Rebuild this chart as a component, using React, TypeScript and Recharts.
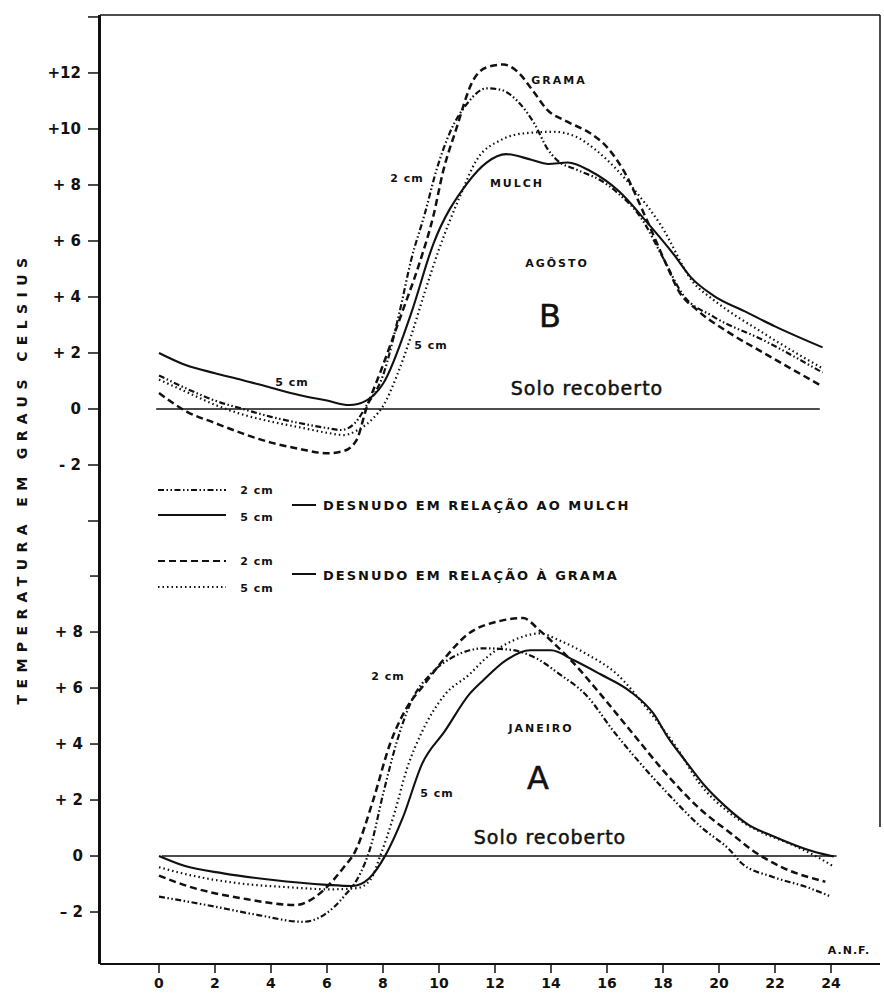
import React from 'react';
import { LineChart, Line, XAxis, YAxis, ReferenceLine } from 'recharts';

// hours of the day (A.N.F.)
const hourTicks = [0, 2, 4, 6, 8, 10, 12, 14, 16, 18, 20, 22, 24];

// upper panel (B - agosto) axis
const agostoTicks = [14, 12, 10, 8, 6, 4, 2, 0, -2, -4];
const agostoLabels = ['', '+12', '+10', '+ 8', '+ 6', '+ 4', '+ 2', '0', '- 2', ''];

// lower panel (A - janeiro) axis
const janeiroTicks = [10, 8, 6, 4, 2, 0, -2];
const janeiroLabels = ['', '+ 8', '+ 6', '+ 4', '+ 2', '0', '– 2'];

// [hour, difference in degrees C]
const agostoMulch2: [number, number][] = [
  [0, 1.2], [1, 0.72], [2, 0.3], [3, 0.0], [4, -0.28], [5, -0.5], [6, -0.68], [6.5, -0.75],
  [7, -0.5], [7.4, 0.1], [8, 1.2], [8.6, 3.5], [9, 5.3], [9.5, 7.0], [9.9, 8.5], [10.4, 9.9],
  [11, 10.9], [11.7, 11.45], [12.2, 11.4], [12.8, 11.0], [13.4, 10.2], [13.9, 9.25], [14.2, 8.9],
  [14.9, 8.55], [15.8, 8.15], [16.4, 7.7], [17.2, 6.85], [18, 5.4], [18.7, 4.1], [19.8, 3.3],
  [21.6, 2.45], [23.7, 1.3],
];
const agostoMulch5: [number, number][] = [
  [0, 2.0], [1, 1.55], [2, 1.28], [3, 1.03], [4, 0.76], [5, 0.5], [6, 0.3], [6.8, 0.14],
  [7.4, 0.3], [8, 0.9], [9, 3.4], [9.8, 5.9], [11, 8.05], [11.7, 8.8], [12.4, 9.1], [13.3, 8.9],
  [13.9, 8.75], [14.6, 8.8], [15.4, 8.5], [16.4, 7.8], [17.4, 6.7], [18.4, 5.5], [19, 4.7],
  [19.8, 4.05], [21, 3.45], [22, 2.95], [23.7, 2.2],
];
const agostoGrama2: [number, number][] = [
  [0, 0.57], [1, -0.1], [2, -0.5], [3, -0.88], [4, -1.2], [5, -1.42], [6, -1.58], [6.6, -1.5],
  [7.06, -1.1], [7.4, 0.0], [7.9, 1.3], [8.7, 3.5], [9.3, 5.2], [9.8, 6.9], [10.15, 8.5],
  [10.6, 9.95], [11.2, 11.7], [11.7, 12.2], [12.3, 12.3], [12.8, 12.05], [13.4, 11.3],
  [13.85, 10.7], [14.6, 10.25], [15.4, 9.85], [16.0, 9.35], [16.6, 8.5], [17.4, 6.8], [18.1, 5.2],
  [18.6, 4.15], [19.2, 3.55], [20.4, 2.7], [21.6, 2.0], [23.6, 0.86],
];
const agostoGrama5: [number, number][] = [
  [0, 1.05], [1, 0.6], [2, 0.15], [3, -0.2], [4, -0.45], [5, -0.65], [6, -0.85], [6.6, -0.93],
  [7.1, -0.75], [7.65, -0.33], [8.0, 0.1], [8.5, 1.2], [9.0, 2.6], [9.5, 4.2], [10.0, 5.7],
  [10.75, 7.6], [11.35, 8.9], [12.2, 9.6], [13.1, 9.85], [14.1, 9.9], [14.9, 9.72], [15.6, 9.25],
  [16.35, 8.55], [17.0, 7.8], [17.9, 6.6], [19.1, 4.5], [19.8, 3.9], [21.6, 2.7], [23.7, 1.45],
];

const janeiroMulch2: [number, number][] = [
  [0, -1.45], [1.7, -1.75], [3.5, -2.1], [5.15, -2.35], [5.9, -2.1], [6.6, -1.45], [7.2, -0.6],
  [7.55, 0.3], [8.0, 2.2], [8.5, 4.1], [9.0, 5.5], [9.7, 6.5], [10.4, 7.05], [11.1, 7.35],
  [11.6, 7.42], [12.6, 7.36], [13.4, 7.1], [14.3, 6.5], [15.3, 5.7], [16.2, 4.5], [17.2, 3.3],
  [18.2, 2.2], [19.4, 1.0], [20.4, 0.2], [20.8, -0.25], [21.9, -0.74], [23.1, -1.1], [24.0, -1.45],
];
const janeiroMulch5: [number, number][] = [
  [0, 0], [0.9, -0.35], [2.3, -0.62], [4, -0.85], [6, -1.03], [6.9, -1.07], [7.5, -0.8],
  [8.1, 0.05], [8.7, 1.35], [9.4, 3.3], [10.2, 4.45], [11.1, 5.8], [11.6, 6.3], [12.4, 7.0],
  [13.25, 7.35], [14.0, 7.35], [14.8, 7.0], [15.75, 6.5], [16.8, 5.9], [17.65, 5.1], [18.2, 4.2],
  [18.8, 3.4], [19.5, 2.5], [20.2, 1.8], [21, 1.15], [22, 0.68], [23.4, 0.15], [24.1, -0.02],
];
const janeiroGrama2: [number, number][] = [
  [0, -0.7], [1.1, -1.1], [2.9, -1.5], [4.9, -1.75], [5.3, -1.63], [5.9, -1.2], [6.6, -0.4],
  [7.0, 0.15], [7.65, 2.0], [8.25, 4.0], [8.85, 5.3], [9.45, 6.1], [10.15, 7.0], [11.0, 7.9],
  [12.2, 8.4], [13.0, 8.5], [13.6, 8.05], [14.1, 7.6], [14.8, 6.9], [15.75, 5.8], [16.9, 4.4],
  [18.1, 2.95], [19.3, 1.7], [20.5, 0.75], [21.2, 0.2], [22.2, -0.38], [23.8, -0.92],
];
const janeiroGrama5: [number, number][] = [
  [0, -0.4], [1.1, -0.68], [2.9, -0.98], [4.7, -1.12], [6.1, -1.19], [7.05, -1.15], [7.55, -0.85],
  [7.9, 0], [8.4, 1.5], [8.85, 3.1], [9.4, 4.45], [10.2, 5.75], [11.1, 6.5], [11.6, 7.0],
  [12.65, 7.7], [13.6, 7.95], [14.3, 7.7], [15.3, 7.2], [16.35, 6.5], [17.4, 5.3], [18.5, 3.85],
  [19.3, 2.6], [20.3, 1.6], [21.4, 0.9], [22.5, 0.45], [23.45, 0], [24.1, -0.38],
];

const toRows = (pts: [number, number][]) => pts.map(([h, v]) => ({ h, v }));

const INK = '#111';
const DASH_DOT = '6 2.5 1.5 2.5 1.5 2.5';
const DASHED = '7 4';
const DOTTED = '1.5 3';
const LETTER = 'DejaVu Sans, Verdana, sans-serif';

const X_DOMAIN: [number, number] = [-2.107, 25.75];
const B_DOMAIN: [number, number] = [-19.82, 14.07];
const A_DOMAIN: [number, number] = [-3.857, 30.04];

const series = [
  { id: 'B', data: agostoMulch2, dash: DASH_DOT, w: 2.2 },
  { id: 'B', data: agostoMulch5, dash: undefined, w: 2.1 },
  { id: 'B', data: agostoGrama2, dash: DASHED, w: 2.5 },
  { id: 'B', data: agostoGrama5, dash: DOTTED, w: 2.2 },
  { id: 'A', data: janeiroMulch2, dash: DASH_DOT, w: 2.2 },
  { id: 'A', data: janeiroMulch5, dash: undefined, w: 2.1 },
  { id: 'A', data: janeiroGrama2, dash: DASHED, w: 2.5 },
  { id: 'A', data: janeiroGrama5, dash: DOTTED, w: 2.2 },
];

const Label = ({ x, y, size = 11, ls = 1, bold = true, heavy = false, children }: any) => (
  <text
    x={x}
    y={y}
    textAnchor="middle"
    dominantBaseline="central"
    fontFamily={LETTER}
    fontSize={size}
    fontWeight={bold ? 'bold' : 'normal'}
    letterSpacing={ls}
    fill={INK}
    stroke={heavy ? INK : undefined}
    strokeWidth={heavy ? 0.5 : undefined}
  >
    {children}
  </text>
);

// plain svg tick so that "+ 8" style labels are not wrapped
const makeYTick = (ticks: number[], labels: string[]) => (props: any) => {
  const { x, y, payload } = props;
  const label = labels[ticks.indexOf(payload.value)] ?? '';
  return (
    <text
      x={x}
      y={y}
      textAnchor="end"
      dominantBaseline="central"
      fontFamily={LETTER}
      fontSize={15}
      fontWeight="bold"
      fill={INK}
      style={{ whiteSpace: 'pre' }}
    >
      {label}
    </text>
  );
};

export default function App() {
  return (
    <div style={{ position: 'absolute', left: 0, top: 0, background: '#fff' }}>
      <LineChart width={884} height={999} margin={{ top: 15, right: 4, bottom: 0, left: 98 }}>
        <XAxis
          xAxisId="h"
          type="number"
          dataKey="h"
          domain={X_DOMAIN}
          allowDataOverflow
          ticks={hourTicks}
          interval={0}
          tickSize={9}
          tickMargin={5}
          tick={{ fontFamily: LETTER, fontSize: 14, fontWeight: 'bold', fill: INK }}
          axisLine={{ stroke: INK, strokeWidth: 2 }}
          tickLine={{ stroke: INK, strokeWidth: 1.5 }}
          height={35}
        />
        <YAxis
          yAxisId="B"
          type="number"
          domain={B_DOMAIN}
          allowDataOverflow
          ticks={agostoTicks}
          interval={0}
          width={1}
          tickSize={11}
          tickMargin={7}
          tick={makeYTick(agostoTicks, agostoLabels)}
          axisLine={{ stroke: INK, strokeWidth: 2 }}
          tickLine={{ stroke: INK, strokeWidth: 1.5 }}
        />
        <YAxis
          yAxisId="A"
          type="number"
          domain={A_DOMAIN}
          allowDataOverflow
          ticks={janeiroTicks}
          interval={0}
          width={1}
          tickSize={10}
          tickMargin={7}
          tick={makeYTick(janeiroTicks, janeiroLabels)}
          axisLine={{ stroke: INK, strokeWidth: 2 }}
          tickLine={{ stroke: INK, strokeWidth: 1.5 }}
        />

        {/* frame: top and right borders */}
        <ReferenceLine xAxisId="h" yAxisId="B" y={B_DOMAIN[1]} stroke={INK} strokeWidth={1.5} />
        <ReferenceLine
          xAxisId="h"
          yAxisId="B"
          segment={[{ x: X_DOMAIN[1], y: B_DOMAIN[1] }, { x: X_DOMAIN[1], y: -14.93 }]}
          stroke={INK}
          strokeWidth={1.5}
        />

        {/* solo recoberto baselines */}
        <ReferenceLine
          xAxisId="h"
          yAxisId="B"
          segment={[{ x: -0.1, y: 0 }, { x: 23.6, y: 0 }]}
          stroke={INK}
          strokeWidth={1.6}
        />
        <ReferenceLine
          xAxisId="h"
          yAxisId="A"
          segment={[{ x: 0.1, y: 0 }, { x: 24.2, y: 0 }]}
          stroke={INK}
          strokeWidth={1.3}
        />

        {series.map((s, i) => (
          <Line
            key={i}
            xAxisId="h"
            yAxisId={s.id}
            data={toRows(s.data)}
            dataKey="v"
            type="monotone"
            stroke={INK}
            strokeWidth={s.w}
            strokeDasharray={s.dash}
            dot={false}
            activeDot={false}
            isAnimationActive={false}
          />
        ))}

        {/* axis title */}
        <text
          x={22}
          y={478}
          transform="rotate(-90 22 478)"
          textAnchor="middle"
          dominantBaseline="central"
          fontFamily={LETTER}
          fontSize={14}
          fontWeight="bold"
          letterSpacing={6.4}
          fill={INK}
        >
          TEMPERATURA EM GRAUS CELSIUS
        </text>

        {/* agosto annotations */}
        <Label x={559} y={80} ls={2}>GRAMA</Label>
        <Label x={407} y={178}>2 cm</Label>
        <Label x={517} y={183} ls={2}>MULCH</Label>
        <Label x={557} y={263} ls={2}>AGÔSTO</Label>
        <Label x={550} y={316} size={32} bold={false} heavy ls={0}>B</Label>
        <Label x={431} y={345}>5 cm</Label>
        <Label x={292} y={382}>5 cm</Label>
        <Label x={587} y={388} size={19} bold={false} heavy ls={1}>Solo recoberto</Label>

        {/* legend */}
        <g stroke={INK} strokeWidth={2}>
          <line x1={158} x2={226} y1={490} y2={490} strokeDasharray={DASH_DOT} />
          <line x1={158} x2={226} y1={515} y2={515} />
          <line x1={158} x2={226} y1={561} y2={561} strokeDasharray={DASHED} />
          <line x1={158} x2={226} y1={587} y2={587} strokeDasharray={DOTTED} />
          <line x1={292} x2={316} y1={505} y2={505} />
          <line x1={292} x2={316} y1={574} y2={574} />
        </g>
        <Label x={257} y={490}>2 cm</Label>
        <Label x={257} y={517}>5 cm</Label>
        <Label x={257} y={561}>2 cm</Label>
        <Label x={257} y={588}>5 cm</Label>
        <text x={323} y={505} dominantBaseline="central" fontFamily={LETTER} fontSize={13} fontWeight="bold" letterSpacing={2.0} fill={INK}>
          DESNUDO EM RELAÇÃO AO MULCH
        </text>
        <text x={323} y={575} dominantBaseline="central" fontFamily={LETTER} fontSize={13} fontWeight="bold" letterSpacing={2.0} fill={INK}>
          DESNUDO EM RELAÇÃO À GRAMA
        </text>

        {/* janeiro annotations */}
        <Label x={388} y={676}>2 cm</Label>
        <Label x={541} y={728} ls={2}>JANEIRO</Label>
        <Label x={538} y={778} size={32} bold={false} heavy ls={0}>A</Label>
        <Label x={437} y={793}>5 cm</Label>
        <Label x={550} y={837} size={19} bold={false} heavy ls={1}>Solo recoberto</Label>
        <Label x={849} y={950} ls={1}>A.N.F.</Label>
      </LineChart>
    </div>
  );
}
